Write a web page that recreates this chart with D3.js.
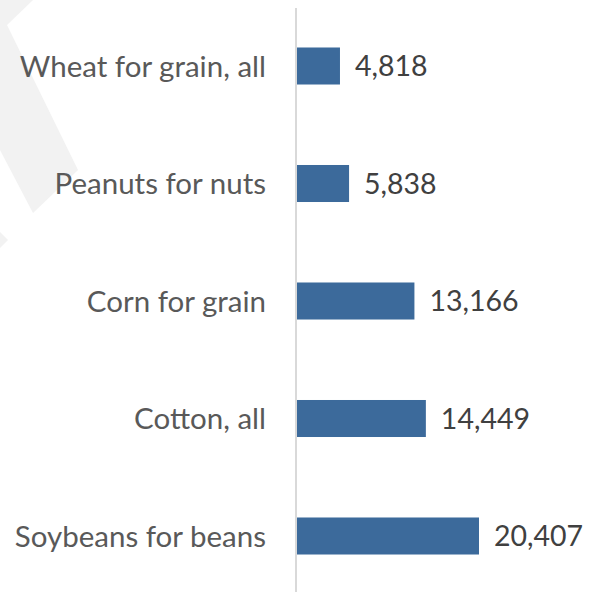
<!DOCTYPE html>
<html><head><meta charset="utf-8">
<script src="https://cdn.jsdelivr.net/npm/d3@7"></script>
<style>html,body{margin:0;padding:0;background:#fff;}svg{display:block;}</style>
</head><body>
<svg id="c" width="593" height="592"></svg>
<script>
const categories = ["Wheat for grain, all","Peanuts for nuts","Corn for grain","Cotton, all","Soybeans for beans"];
const values = [4818, 5838, 13166, 14449, 20407];

const svg = d3.select("#c");
// watermark
svg.append("polygon").attr("points","0,0 33,0 7,25 78,170 33,213 0,150").attr("fill","#f2f2f2");
svg.append("polygon").attr("points","0,232 8,240 0,248").attr("fill","#f2f2f2");

const x = d3.scaleLinear().domain([0, d3.max(values)]).range([297, 479]);
const y = d3.scaleBand().domain(categories).range([7.25, 594.75]).paddingInner(0.685).paddingOuter(0.3425);

svg.append("g").selectAll("rect").data(categories).join("rect")
  .attr("x", x(0)).attr("y", d => y(d))
  .attr("width", (d,i) => x(values[i]) - x(0)).attr("height", y.bandwidth())
  .attr("fill", "#3c6a9b");

svg.append("line").attr("x1",296).attr("x2",296).attr("y1",8).attr("y2",592)
  .attr("stroke","#d9d9d9").attr("stroke-width",2);

const font = "Lato, 'Open Sans', sans-serif";
svg.append("g").selectAll("text").data(categories).join("text")
  .attr("x", 266).attr("y", d => y(d) + y.bandwidth()/2).attr("dy","0.36em")
  .attr("text-anchor","end").attr("font-family",font).attr("font-size",29.5)
  .attr("fill","#595959").text(d => d);

const fmt = d3.format(",");
svg.append("g").selectAll("text").data(categories).join("text")
  .attr("x", (d,i) => x(values[i]) + 15).attr("y", d => y(d) + y.bandwidth()/2).attr("dy","0.36em")
  .attr("font-family",font).attr("font-size",28.5)
  .attr("fill","#404040").text((d,i) => fmt(values[i]));
</script>
</body></html>
